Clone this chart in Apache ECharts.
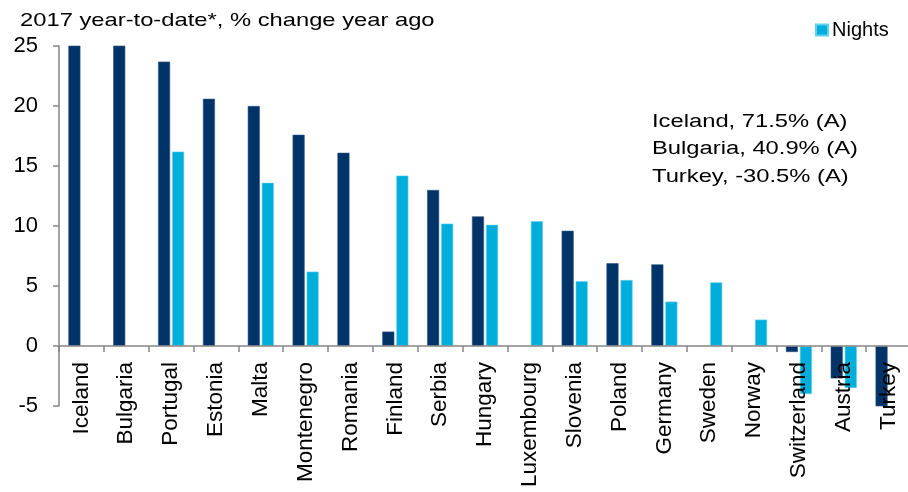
<!DOCTYPE html>
<html>
<head>
<meta charset="utf-8">
<script src="https://cdn.jsdelivr.net/npm/echarts@6/dist/echarts.min.js"></script>
<style>
  html, body { margin: 0; padding: 0; background: #fff; }
  #chart { width: 908px; height: 492px; }
</style>
</head>
<body>
<div id="chart"></div>
<script>
// Tourism growth by country, 2017 year-to-date, % change on a year ago
var countries = ['Iceland', 'Bulgaria', 'Portugal', 'Estonia', 'Malta', 'Montenegro', 'Romania',
  'Finland', 'Serbia', 'Hungary', 'Luxembourg', 'Slovenia', 'Poland', 'Germany', 'Sweden',
  'Norway', 'Switzerland', 'Austria', 'Turkey'];
var arrivals = [71.5, 40.9, 23.7, 20.6, 20.0, 17.6, 16.1, 1.2, 13.0, 10.8, null, 9.6, 6.9, 6.8,
  null, null, -0.5, -2.7, -30.5];
var nights = [null, null, 16.2, null, 13.6, 6.2, null, 14.2, 10.2, 10.1, 10.4, 5.4, 5.5, 3.7,
  5.3, 2.2, -4.0, -3.5, null];
var yTicks = { min: -5, max: 25, interval: 5 };
var offScaleNotes = ['Iceland, 71.5% (A)', 'Bulgaria, 40.9% (A)', 'Turkey, -30.5% (A)'];

var FONT = '"Liberation Sans", Arial, sans-serif';
var AXIS_GREY = '#868686';

// plot height 360px over a 30-point range: the zero line sits 5 points above the bottom
var GRID = { left: 59, top: 46, bottom: 86, right: -3 };
var plotH = 492 - GRID.top - GRID.bottom;
var zeroLift = plotH * (0 - yTicks.min) / (yTicks.max - yTicks.min);

var chart = echarts.init(document.getElementById('chart'), null, { renderer: 'canvas' });

chart.setOption({
  animation: false,
  backgroundColor: '#ffffff',
  textStyle: { fontFamily: FONT, color: '#000' },
  grid: {
    left: GRID.left, top: GRID.top, bottom: GRID.bottom, right: GRID.right,
    containLabel: false, outerBoundsMode: 'none'
  },
  legend: {
    data: ['Nights'],
    left: 815,
    top: 20,
    padding: 0,
    icon: 'rect',
    itemWidth: 12,
    itemHeight: 11,
    itemGap: 5,
    textStyle: { fontFamily: FONT, fontSize: 20, color: '#000', padding: [0, 0, 0, -1] }
  },
  xAxis: {
    type: 'category',
    data: countries,
    z: 10,
    position: 'bottom',
    offset: -zeroLift,
    axisLine: { onZero: false, lineStyle: { color: AXIS_GREY, width: 1.5 } },
    axisTick: { show: true, length: 6, interval: 0, lineStyle: { color: AXIS_GREY, width: 1.5 } },
    axisLabel: {
      interval: 0, rotate: 90, margin: 16, hideOverlap: false,
      fontFamily: FONT, fontSize: 22.5, color: '#000'
    },
    splitLine: { show: false }
  },
  yAxis: {
    type: 'value',
    min: yTicks.min,
    max: yTicks.max,
    interval: yTicks.interval,
    axisLine: { show: true, lineStyle: { color: AXIS_GREY, width: 1.5 } },
    axisTick: { show: true, length: 6, lineStyle: { color: AXIS_GREY, width: 1.5 } },
    axisLabel: { margin: 21, fontFamily: FONT, fontSize: 22, color: '#000' },
    splitLine: { show: false }
  },
  series: [
    {
      name: 'Arrivals',
      type: 'bar',
      data: arrivals,
      barWidth: 12,
      barGap: '17%',
      clip: true,
      itemStyle: { color: '#003468', borderColor: '#2c5286', borderWidth: 0.6 }
    },
    {
      name: 'Nights',
      type: 'bar',
      data: nights,
      barWidth: 12,
      barGap: '17%',
      clip: true,
      itemStyle: { color: '#00AEDC', borderColor: '#5fd0ee', borderWidth: 0.6 }
    }
  ],
  graphic: [
    {
      type: 'text',
      left: 20,
      top: 11,
      scaleX: 1.25,
      style: {
        text: '2017 year-to-date*, % change year ago',
        font: '19px ' + FONT,
        fill: '#000'
      }
    },
    {
      type: 'text',
      x: 652,
      y: 108,
      scaleX: 1.32,
      style: {
        text: offScaleNotes.join('\n'),
        font: '18px ' + FONT,
        lineHeight: 27.5,
        fill: '#000'
      }
    }
  ]
});
</script>
</body>
</html>
